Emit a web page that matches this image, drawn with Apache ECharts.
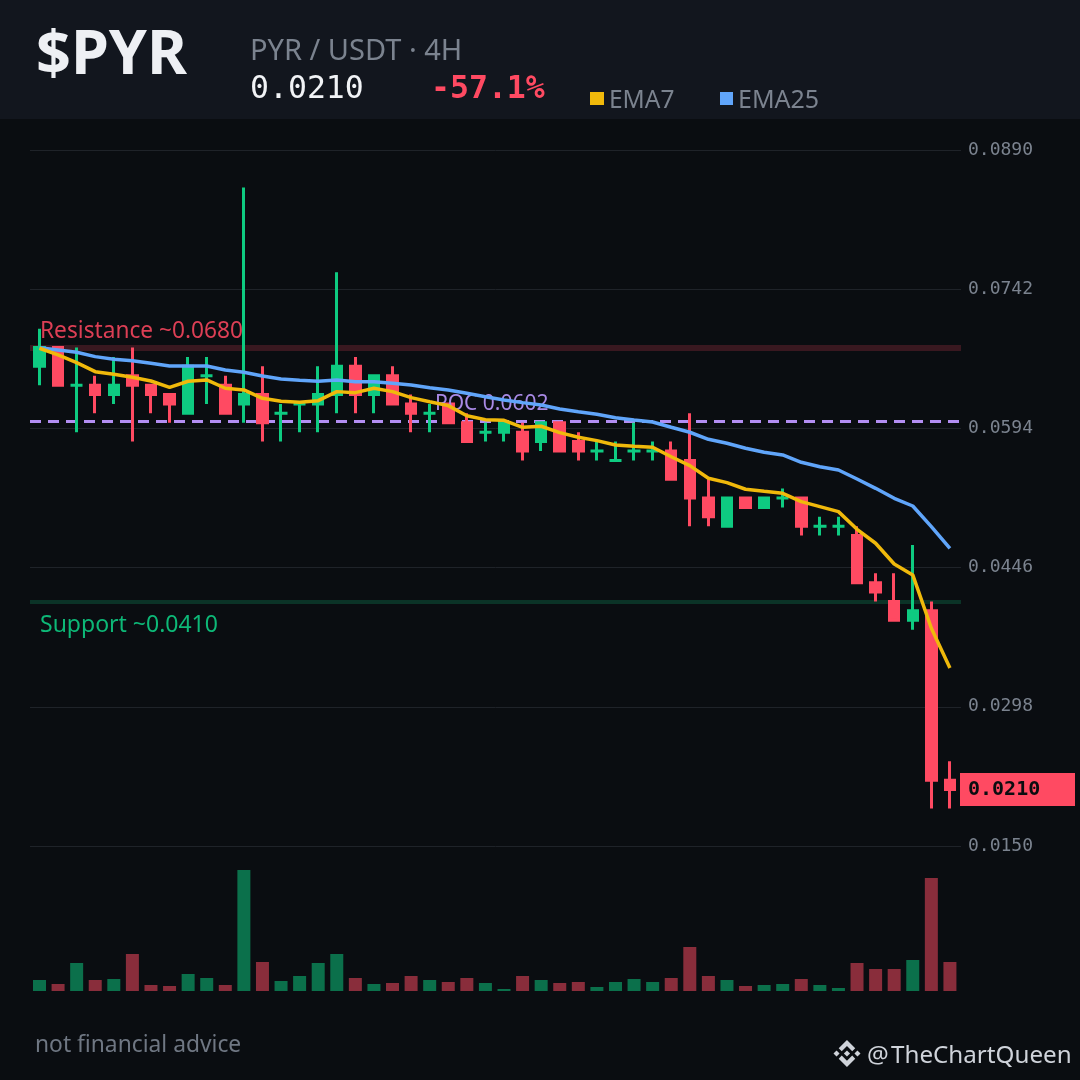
<!DOCTYPE html>
<html><head><meta charset="utf-8">
<style>html,body{margin:0;padding:0;background:#0a0d11}#c{width:1080px;height:1080px}</style>
<script src="https://cdn.jsdelivr.net/npm/echarts@6/dist/echarts.min.js"></script>
</head><body><div id="c"></div>
<script>
const opens  = [.066,.068,.064,.064,.063,.065,.064,.063,.061,.065,.064,.062,.063,.061,.062,.062,.063,.066,.063,.065,.062,.061,.062,.060,.059,.059,.059,.058,.060,.058,.057,.056,.057,.057,.057,.056,.052,.049,.052,.051,.052,.052,.049,.049,.048,.043,.041,.039,.040,.022];
const closes = [.068,.064,.064,.063,.064,.064,.063,.062,.066,.065,.061,.063,.060,.061,.062,.063,.066,.063,.065,.062,.061,.061,.060,.058,.059,.060,.057,.060,.057,.057,.057,.056,.057,.057,.054,.052,.050,.052,.051,.052,.052,.049,.049,.049,.043,.042,.039,.040,.022,.021];
const lows   = [.064,.064,.059,.061,.062,.058,.061,.060,.061,.062,.061,.060,.058,.058,.059,.059,.061,.061,.061,.062,.059,.059,.060,.058,.058,.058,.056,.057,.057,.056,.056,.056,.056,.056,.054,.049,.049,.049,.051,.051,.051,.048,.048,.048,.043,.041,.039,.038,.019,.019];
const highs  = [.070,.068,.068,.065,.067,.068,.064,.063,.067,.067,.065,.085,.066,.062,.062,.066,.076,.067,.065,.066,.063,.062,.062,.061,.060,.060,.060,.060,.060,.059,.058,.058,.060,.058,.058,.061,.054,.052,.052,.052,.053,.052,.050,.050,.049,.044,.044,.047,.041,.024];
const ema7   = [.06792,.06721,.06639,.06543,.06516,.06484,.06444,.06377,.06441,.06455,.06367,.06349,.06260,.06228,.06218,.06235,.06331,.06320,.06367,.06331,.06267,.06224,.06182,.06075,.06033,.06026,.05952,.05963,.05895,.05846,.05810,.05764,.05750,.05739,.05639,.05544,.05410,.05363,.05293,.05271,.05250,.05161,.05108,.05055,.04867,.04719,.04498,.04382,.03815,.03393];
const ema25  = [.06798,.06774,.06749,.06703,.06675,.06660,.06633,.06604,.06604,.06604,.06561,.06537,.06498,.06466,.06452,.06441,.06455,.06437,.06437,.06420,.06402,.06373,.06349,.06313,.06277,.06242,.06214,.06189,.06147,.06118,.06090,.06054,.06030,.06008,.05952,.05899,.05824,.05782,.05729,.05686,.05658,.05580,.05533,.05498,.05402,.05303,.05197,.05115,.04895,.04665];
const volumes= [11,7,28,11,12,37,6,5,17,13,6,121,29,10,15,28,37,13,7,8,15,11,9,13,8,2,15,11,8,9,4,9,12,9,13,44,15,11,5,6,7,12,6,3,28,22,22,31,113,29];
const priceTicks = [.015,.0298,.0446,.0594,.0742,.089];
const resistance = .068, support = .041, poc = .0602, lastPrice = .021;
const changePct = '-57.1%';

const GREEN='#0ecb81', RED='#ff4a62', GREY='#7b838f', BG='#0a0d11', HEAD='#12161e';
const MONO='"DejaVu Sans Mono"', SANS='"Noto Sans"';
const idx = opens.map((_,i)=>i);
const isDoji = i => opens[i]===closes[i];
const xRange = {min:-0.511, max:49.596};
const ohlc = i => [i,opens[i],closes[i],lows[i],highs[i]];
const candleStyle = {color:GREEN,color0:RED,borderColor:GREEN,borderColor0:RED,borderColorDoji:GREEN,borderWidth:3};

const chart = echarts.init(document.getElementById('c'),null,{renderer:'canvas'});
const txt=(text,x,y,font,fill,extra)=>({type:'text',z:extra&&extra.z||20,silent:true,style:Object.assign({text,x,y,font,fill,textVerticalAlign:'middle'},extra&&extra.style||{})});
const rect=(x,y,w,h,fill,z)=>({type:'rect',z:z||20,silent:true,shape:{x,y,width:w,height:h},style:{fill}});
const LOGO=[
 [[38.73,53.2],[63.32,28.62],[87.92,53.22],[102.22,38.91],[63.32,0],[24.43,38.9]],
 [[0,63.31],[14.3,49],[28.61,63.31],[14.3,77.61]],
 [[38.73,73.41],[63.32,98],[87.92,73.4],[102.23,87.69],[63.33,126.6],[24.42,87.72]],
 [[98.28,63.31],[112.58,49],[126.89,63.3],[112.58,77.62]],
 [[77.83,63.3],[63.32,48.78],[48.81,63.28],[63.32,77.78]]
];
const logoEls=LOGO.map(p=>({type:'polygon',z:20,silent:true,shape:{points:p.map(q=>[833.5+q[0]*27/126.9,1040+q[1]*27/126.9])},style:{fill:'#cfd3da'}}));

chart.setOption({
  animation:false,
  backgroundColor:BG,
  grid:[{left:30,right:119,top:150,height:696},{left:30,right:119,top:870,height:121}],
  xAxis:[
    {type:'value',gridIndex:0,min:xRange.min,max:xRange.max,show:false},
    {type:'value',gridIndex:1,min:xRange.min,max:xRange.max,show:false}
  ],
  yAxis:[
    {type:'value',gridIndex:0,position:'right',min:.015,max:.089,
     axisLine:{show:false},axisTick:{show:false,customValues:priceTicks},
     splitLine:{show:true,lineStyle:{color:'#1f2329',width:1}},
     axisLabel:{customValues:priceTicks,margin:7,padding:[4,0,0,0],color:GREY,fontFamily:MONO,fontSize:18,formatter:v=>v.toFixed(4)}},
    {type:'value',gridIndex:1,min:0,max:121,show:false}
  ],
  series:[
    {type:'line',xAxisIndex:0,yAxisIndex:0,data:[],z:1,silent:true,
     markLine:{silent:true,symbol:'none',z:1,animation:false,precision:6,label:{show:false},data:[
       {yAxis:resistance,lineStyle:{color:'rgba(246,70,93,0.2)',width:6,type:'solid'}},
       {yAxis:support,lineStyle:{color:'rgba(14,203,129,0.2)',width:4,type:'solid'}},
       {yAxis:poc,lineStyle:{color:'#b38ef3',width:3,type:[11,7]}}
     ]}},
    {type:'candlestick',xAxisIndex:0,yAxisIndex:0,z:3,barWidth:10,
     encode:{x:0,y:[1,2,3,4]},
     data:idx.filter(i=>!isDoji(i)).map(ohlc),itemStyle:candleStyle},
    {type:'candlestick',xAxisIndex:0,yAxisIndex:0,z:3,barWidth:13,
     encode:{x:0,y:[1,2,3,4]},
     data:idx.filter(isDoji).map(ohlc),itemStyle:candleStyle},
    {type:'line',name:'EMA25',xAxisIndex:0,yAxisIndex:0,z:6,showSymbol:false,symbol:'none',
     data:idx.map(i=>[i,ema25[i]]),lineStyle:{color:'#60a5fa',width:3.5}},
    {type:'line',name:'EMA7',xAxisIndex:0,yAxisIndex:0,z:6,showSymbol:false,symbol:'none',
     data:idx.map(i=>[i,ema7[i]]),lineStyle:{color:'#f0b90b',width:3.5}},
    {type:'bar',xAxisIndex:1,yAxisIndex:1,barWidth:13,z:2,
     data:idx.map(i=>({value:[i,volumes[i]],itemStyle:{color:closes[i]>=opens[i]?GREEN:RED,opacity:0.52}}))}
  ],
  graphic:[
    rect(0,0,1080,119,HEAD,1),
    txt('$PYR',36,57,'bold 61px '+SANS,'#eef0f4'),
    txt('PYR / USDT · 4H',250,52,'29px '+SANS,GREY),
    txt('0.0210',250,90,'31.5px '+MONO,'#f1f3f6'),
    txt(changePct,431,90,'bold 31.5px '+MONO,RED),
    rect(590,92,14,13,'#f0b90b'),
    txt('EMA7',609,101,'24.5px '+SANS,GREY),
    rect(720,92,13,13,'#60a5fa'),
    txt('EMA25',738,101,'25px '+SANS,GREY),
    txt('Resistance ~'+resistance.toFixed(4),40,332,'22.7px '+SANS,'#dd3f55',{z:4}),
    txt('Support ~'+support.toFixed(4),40,625,'23px '+SANS,'#0db877',{z:4}),
    txt('POC '+poc.toFixed(4),435,404,'21px '+SANS,'#a98ae6',{z:4}),
    rect(960,773,115,33,RED),
    txt(lastPrice.toFixed(4),968,790,'bold 20px '+MONO,'#0a0d10'),
    txt('not financial advice',35,1046,'22.8px '+SANS,'#6f7783'),
    ...logoEls,
    txt('@',867,1056,'24.2px '+SANS,'#cfd3da'),
    txt('TheChartQueen',891,1056,'24.2px '+SANS,'#cfd3da')
  ]
});
</script></body></html>
